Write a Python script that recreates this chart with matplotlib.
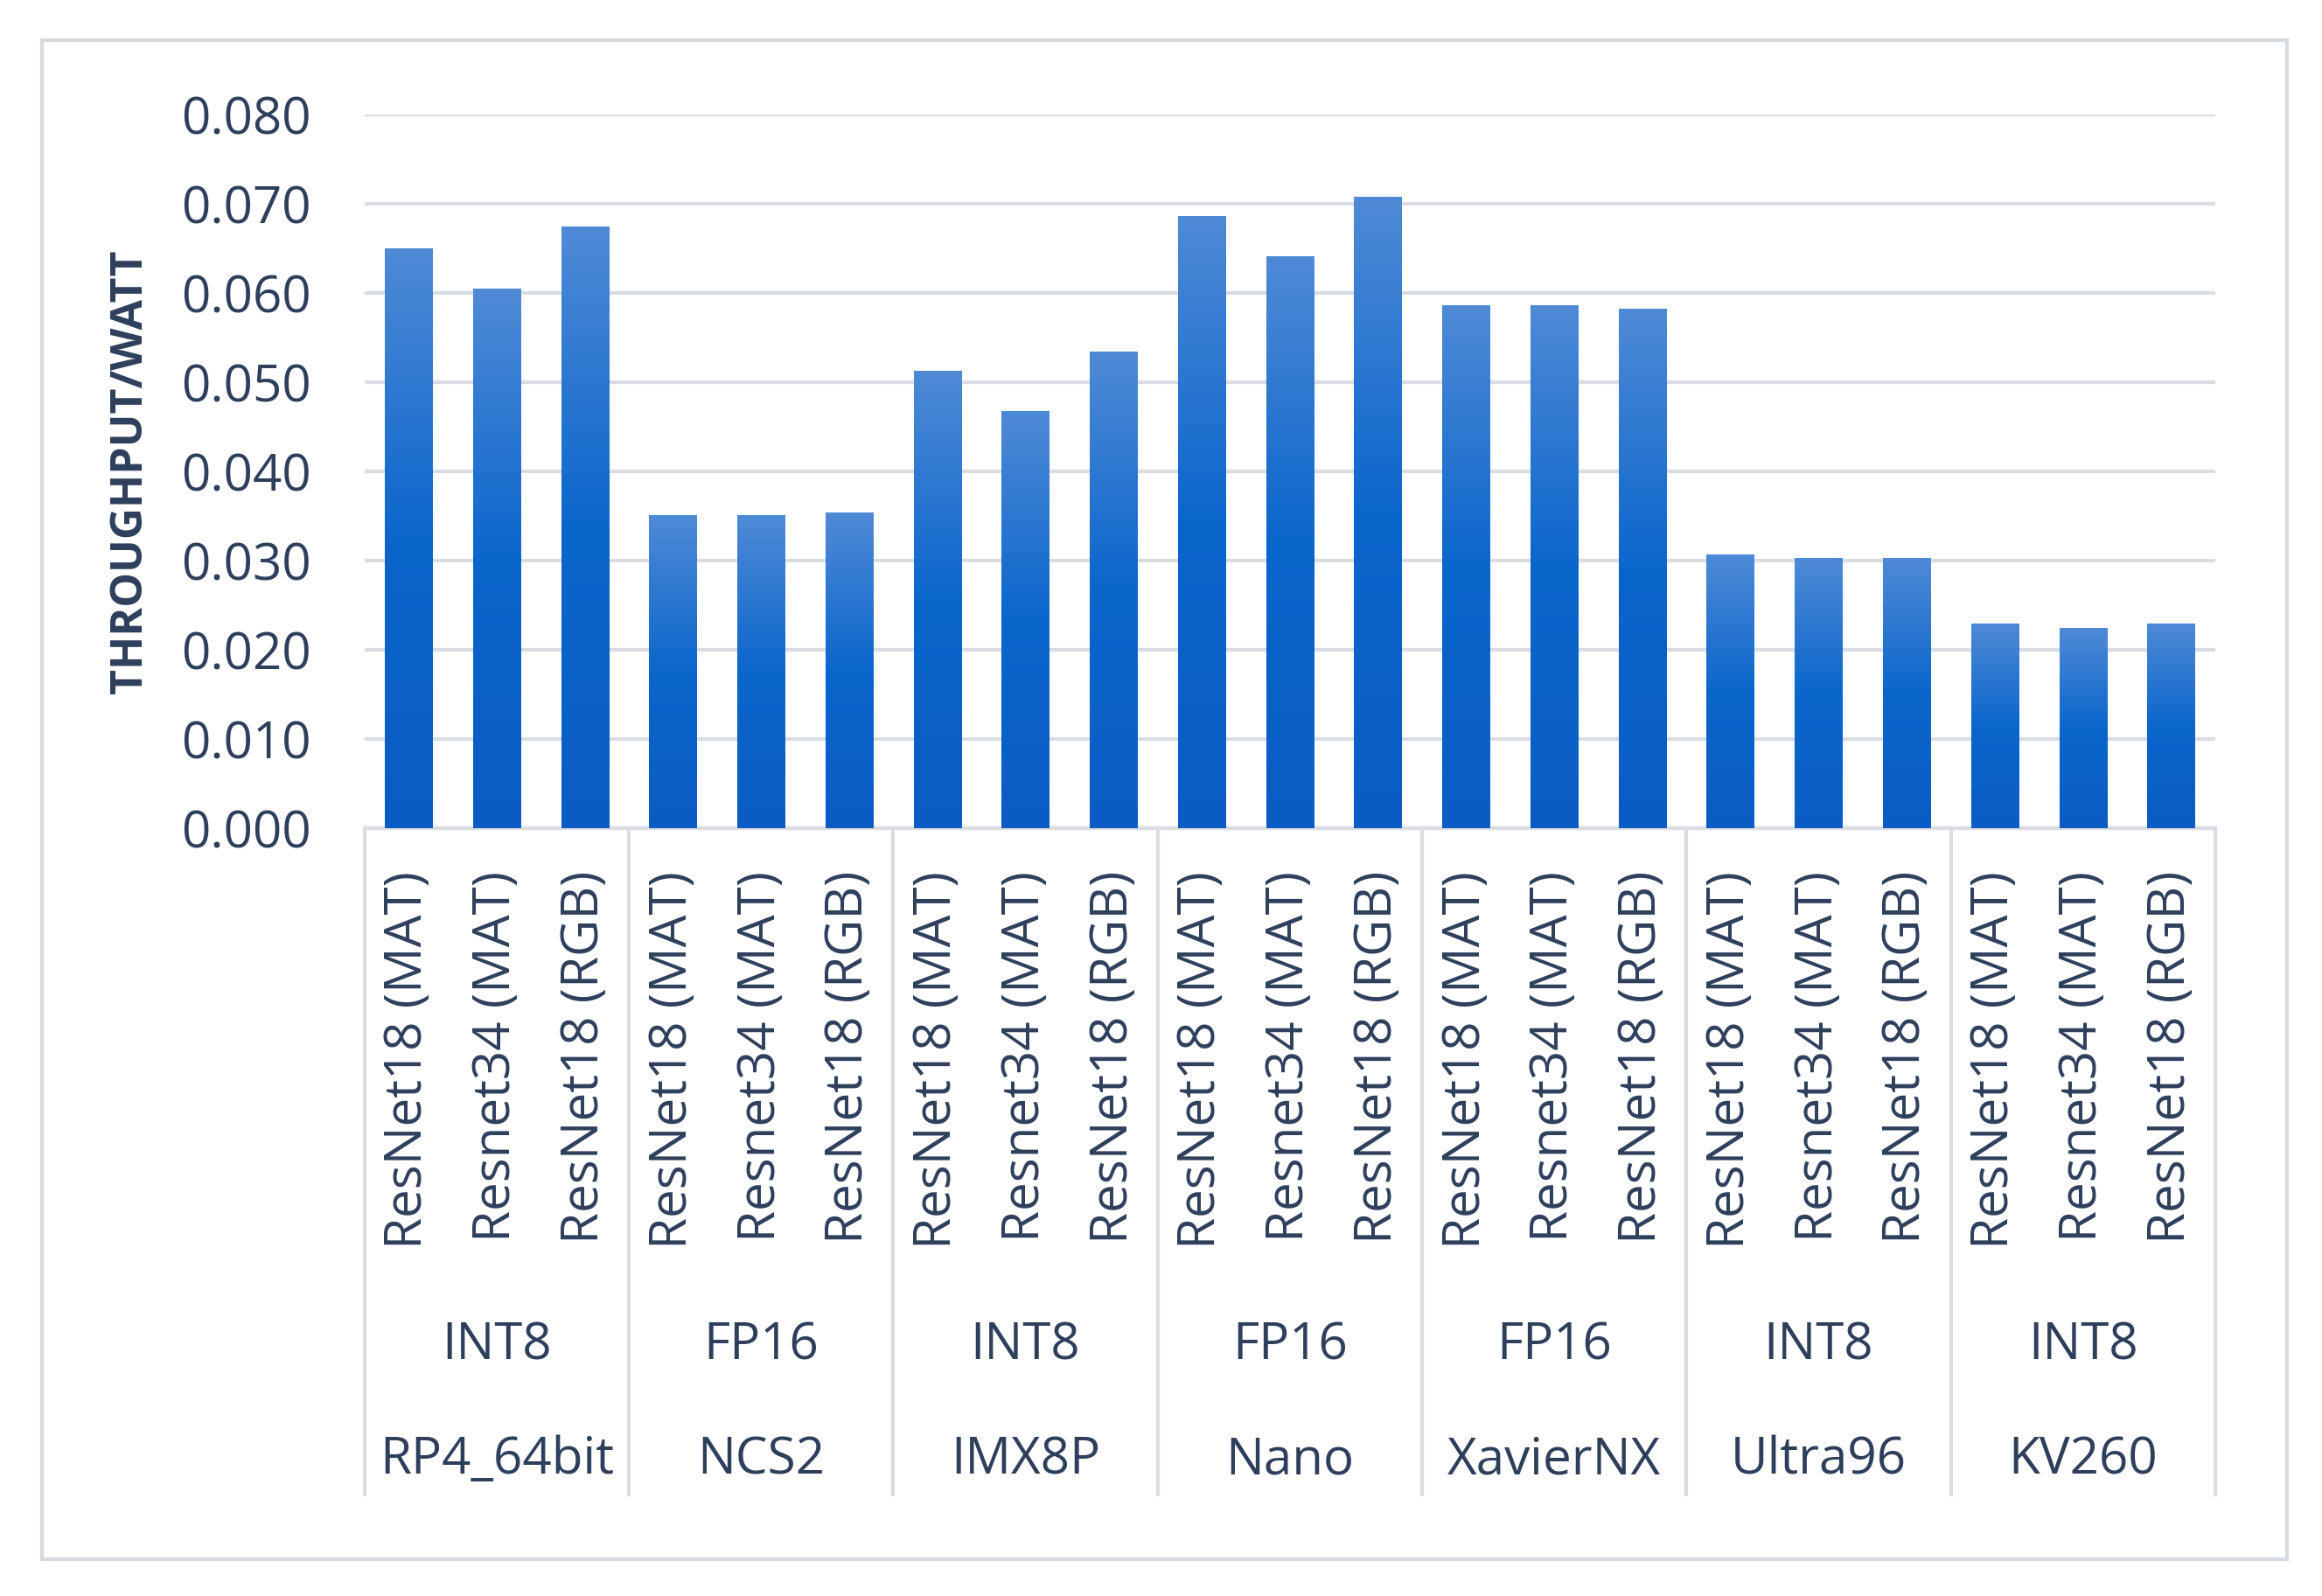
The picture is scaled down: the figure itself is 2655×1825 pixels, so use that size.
import matplotlib
matplotlib.use("Agg")
import matplotlib.pyplot as plt
import numpy as np
from matplotlib.colors import LinearSegmentedColormap
from matplotlib.patches import Rectangle

devices = ["RP4_64bit", "NCS2", "IMX8P", "Nano", "XavierNX", "Ultra96", "KV260"]
precisions = ["INT8", "FP16", "INT8", "FP16", "FP16", "INT8", "INT8"]
models = ["ResNet18 (MAT)", "Resnet34 (MAT)", "ResNet18 (RGB)"]
values = [
    [0.0650, 0.0605, 0.0675],
    [0.0351, 0.0351, 0.0354],
    [0.0513, 0.0468, 0.0535],
    [0.0687, 0.0642, 0.0708],
    [0.0587, 0.0587, 0.0583],
    [0.0307, 0.0303, 0.0303],
    [0.0230, 0.0225, 0.0230],
]

plt.rcParams['font.family'] = ['Open Sans', 'DejaVu Sans']
txt = "#2e3f5c"
grid = "#d9dde3"

fig = plt.figure(figsize=(13.275, 9.125), dpi=200)
fig.patches.append(Rectangle((0.018, 0.023), 0.967, 0.952, transform=fig.transFigure,
                             fill=False, edgecolor="#d6dbe2", linewidth=1.5))
ax = fig.add_axes([0.157, 0.481, 0.797, 0.447])

flat = [v for g in values for v in g]
x = np.arange(len(flat))
cmap = LinearSegmentedColormap.from_list("g", ["#0a5cc4", "#0b66cc", "#4f8ad6"])
bars = ax.bar(x, flat, width=0.54, color="none", zorder=3)
grad = np.linspace(0, 1, 256).reshape(-1, 1)
for b in bars:
    im = ax.imshow(grad, cmap=cmap, aspect="auto", origin="lower",
                   extent=[b.get_x(), b.get_x() + b.get_width(), 0, b.get_height()], zorder=3)
    im.set_clip_path(b)

ax.set_xlim(-0.5, len(flat) - 0.5)
ax.set_ylim(0, 0.08)
ax.set_yticks(np.arange(0, 0.081, 0.01))
ax.set_yticklabels([f"{t:.3f}" for t in np.arange(0, 0.081, 0.01)], fontsize=21, color=txt)
ax.yaxis.grid(True, color=grid, linewidth=1.5, zorder=0)
ax.set_xticks([])
ax.tick_params(axis="y", length=0, pad=22)
for s in ["top", "right", "left"]:
    ax.spines[s].set_visible(False)
ax.spines["bottom"].set_color(grid)
ax.spines["bottom"].set_linewidth(1.5)
ax.set_ylabel("THROUGHPUT/WATT", fontsize=18, fontweight="bold", color=txt, labelpad=12)

tr = ax.get_xaxis_transform()
for i in range(len(flat)):
    ax.text(i, -0.06, models[i % 3], rotation=90, ha="center", va="top",
            fontsize=21, color=txt, transform=tr, clip_on=False)
for g in range(len(devices)):
    cx = g * 3 + 1
    ax.text(cx, -0.726, precisions[g], ha="center", va="center", fontsize=21, color=txt, transform=tr)
    ax.text(cx, -0.886, devices[g], ha="center", va="center", fontsize=21, color=txt, transform=tr)
for sx in np.arange(-0.5, len(flat), 3):
    ax.plot([sx, sx], [0, -0.934], color=grid, linewidth=1.5, transform=tr, clip_on=False)

fig.savefig("out.png", dpi=200, facecolor="white")
